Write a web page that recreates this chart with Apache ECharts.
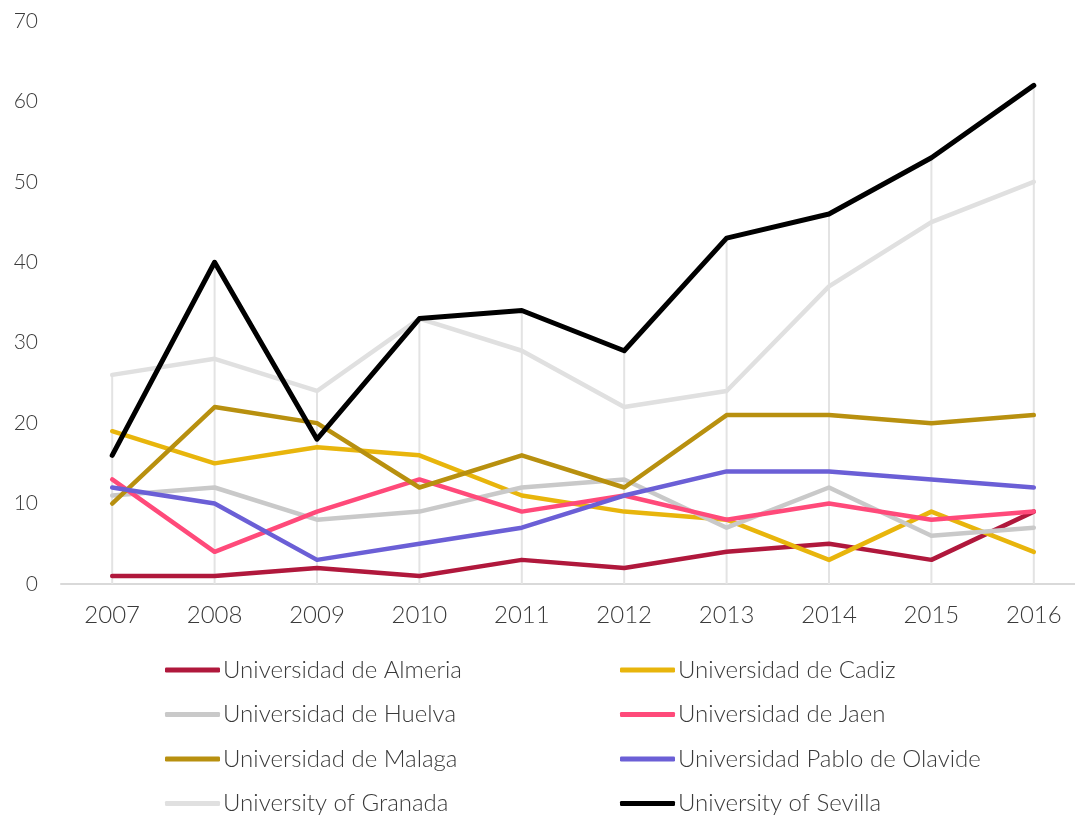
<!DOCTYPE html>
<html>
<head>
<meta charset="utf-8">
<script src="https://cdn.jsdelivr.net/npm/echarts@6/dist/echarts.min.js"></script>
<style>
html,body{margin:0;padding:0;background:#fff;}
#chart{width:1075px;height:816px;}
</style>
</head>
<body>
<div id="chart"></div>
<script>
const years = ['2007','2008','2009','2010','2011','2012','2013','2014','2015','2016'];
const almeria  = [1, 1, 2, 1, 3, 2, 4, 5, 3, 9];
const cadiz    = [19, 15, 17, 16, 11, 9, 8, 3, 9, 4];
const huelva   = [11, 12, 8, 9, 12, 13, 7, 12, 6, 7];
const jaen     = [13, 4, 9, 13, 9, 11, 8, 10, 8, 9];
const malaga   = [10, 22, 20, 12, 16, 12, 21, 21, 20, 21];
const olavide  = [12, 10, 3, 5, 7, 11, 14, 14, 13, 12];
const granada  = [26, 28, 24, 33, 29, 22, 24, 37, 45, 50];
const sevilla  = [16, 40, 18, 33, 34, 29, 43, 46, 53, 62];

const names = ['Universidad de Almeria','Universidad de Cadiz','Universidad de Huelva','Universidad de Jaen',
  'Universidad de Malaga','Universidad Pablo de Olavide','University of Granada','University of Sevilla'];
const values = [almeria, cadiz, huelva, jaen, malaga, olavide, granada, sevilla];
const colors = ['#b0183c','#e8b50c','#c9c9c9','#ff4a7a','#b8900f','#6b5fd6','#e0e0e0','#000000'];

const dropMax = years.map((_, i) => Math.max(...values.map(v => v[i])));

const FONT = 'Lato';
const series = [{
  name: 'drop', type: 'bar', data: dropMax, barWidth: 2, silent: true, z: 0,
  itemStyle: { color: '#e3e3e3' }
}];
names.forEach((n, k) => {
  series.push({
    name: n, type: 'line', data: values[k], showSymbol: false, symbol: 'none',
    lineStyle: { color: colors[k], width: k === 7 ? 5 : 4.5, cap: 'round', join: 'round' },
    itemStyle: { color: colors[k] }, z: 2 + k, animation: false
  });
});

const legendCommon = {
  orient: 'vertical', icon: 'roundRect', itemWidth: 55, itemHeight: 5, itemGap: 16.5,
  textStyle: { fontFamily: FONT, fontWeight: 300, fontSize: 24, color: '#3a3a3a', lineHeight: 28, padding: [0,0,0,-2] },
  top: 656, height: 170, padding: 0
};

const chart = echarts.init(document.getElementById('chart'), null, { renderer: 'canvas' });
chart.setOption({
  animation: false,
  backgroundColor: '#ffffff',
  grid: { left: 61, width: 1024, top: 21, bottom: 232, containLabel: false, outerBoundsMode: 'none' },
  xAxis: {
    type: 'category', data: years, boundaryGap: true,
    axisLine: { lineStyle: { color: '#d9d9d9', width: 2 } },
    axisTick: { show: false },
    axisLabel: { fontFamily: FONT, fontWeight: 300, fontSize: 24, color: '#3a3a3a', margin: 19 },
    splitLine: { show: false }
  },
  yAxis: {
    type: 'value', min: 0, max: 70, interval: 10,
    axisLine: { show: false }, axisTick: { show: false },
    splitLine: { show: false },
    axisLabel: { fontFamily: FONT, fontWeight: 300, fontSize: 21, color: '#3a3a3a', margin: 23 }
  },
  legend: [
    Object.assign({ left: 165, data: [names[0], names[2], names[4], names[6]] }, legendCommon),
    Object.assign({ left: 620, data: [names[1], names[3], names[5], names[7]] }, legendCommon)
  ],
  series: series
});
</script>
</body>
</html>
